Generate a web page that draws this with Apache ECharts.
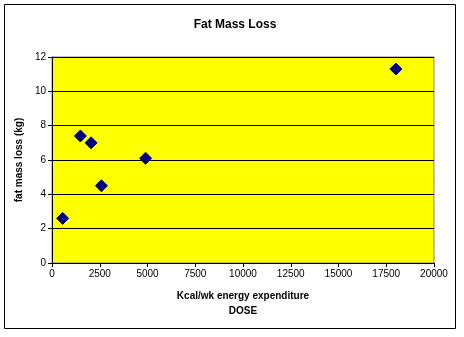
<!DOCTYPE html>
<html><head><meta charset="utf-8">
<script src="https://cdn.jsdelivr.net/npm/echarts@6/dist/echarts.min.js"></script>
<style>html,body{margin:0;padding:0;background:#fff}#c{width:464px;height:337px}</style>
</head><body><div id="c"></div>
<script>
const doseKcal = [556, 1486, 2045, 2588, 4898, 18005];
const fatLossKg = [2.6, 7.4, 7.0, 4.5, 6.1, 11.3];
const xTicks = [0, 2500, 5000, 7500, 10000, 12500, 15000, 17500, 20000];
const yTicks = [0, 2, 4, 6, 8, 10, 12];

const chart = echarts.init(document.getElementById('c'), null, {renderer: 'canvas'});
const font = 'Liberation Sans, Arial, sans-serif';
chart.setOption({
  backgroundColor: '#fff',
  animation: false,
  title: {
    text: 'Fat Mass Loss', left: 230, top: 14, textAlign: 'center',
    textStyle: {fontFamily: font, fontSize: 12, fontWeight: 'bold', color: '#000'}
  },
  graphic: [{
    type: 'rect', shape: {x: 4.5, y: 4.5, width: 451, height: 324},
    style: {fill: 'none', stroke: '#000', lineWidth: 1}, z: 100
  }],
  grid: {
    left: 52, right: 30, top: 57, bottom: 74,
    show: true, backgroundColor: '#FFFF00', borderColor: '#808080', borderWidth: 1
  },
  xAxis: {
    type: 'value', min: xTicks[0], max: xTicks[xTicks.length - 1], interval: 2500,
    name: 'Kcal/wk energy expenditure\nDOSE', nameLocation: 'middle', nameGap: 26,
    nameTextStyle: {fontFamily: font, fontSize: 10, fontWeight: 'bold', color: '#000', lineHeight: 15},
    axisLine: {lineStyle: {color: '#000', width: 1}},
    axisTick: {show: true, length: 4, lineStyle: {color: '#000'}},
    axisLabel: {fontFamily: font, fontSize: 10, color: '#000', margin: 6, formatter: v => String(v)},
    splitLine: {show: false}
  },
  yAxis: {
    type: 'value', min: yTicks[0], max: yTicks[yTicks.length - 1], interval: 2,
    name: 'fat mass loss (kg)', nameLocation: 'middle', nameGap: 22, nameRotate: 90,
    nameTextStyle: {fontFamily: font, fontSize: 10, fontWeight: 'bold', color: '#000'},
    axisLine: {show: true, lineStyle: {color: '#000', width: 1}},
    axisTick: {show: true, length: 4, lineStyle: {color: '#000'}},
    axisLabel: {fontFamily: font, fontSize: 10, color: '#000', margin: 6},
    splitLine: {show: true, lineStyle: {color: '#000', width: 1}}
  },
  series: [{
    type: 'scatter',
    data: doseKcal.map((x, i) => [x, fatLossKg[i]]),
    symbol: 'diamond', symbolSize: 12,
    itemStyle: {color: '#000080', borderColor: '#000040', borderWidth: 1, opacity: 1}
  }]
});
</script></body></html>
